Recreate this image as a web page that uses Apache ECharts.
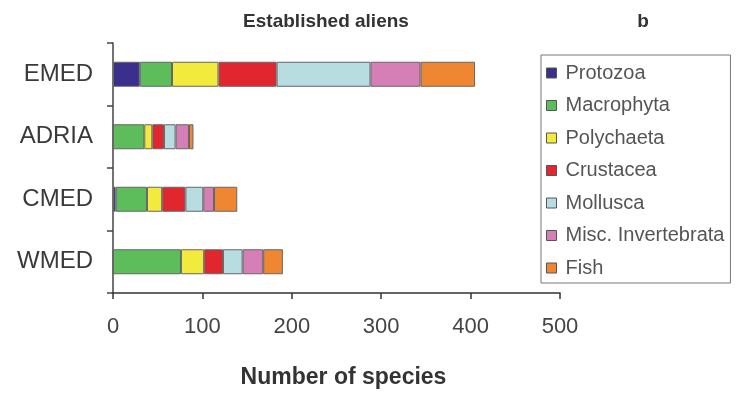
<!DOCTYPE html>
<html>
<head>
<meta charset="utf-8">
<script src="https://cdn.jsdelivr.net/npm/echarts@6/dist/echarts.min.js"></script>
<style>
  html, body { margin: 0; padding: 0; background: #fff; }
  #chart { width: 740px; height: 397px; }
</style>
</head>
<body>
<div id="chart"></div>
<script>
// Regions of the Mediterranean (top to bottom)
const regions = ['EMED', 'ADRIA', 'CMED', 'WMED'];

// Established alien species per taxonomic group, one value per region
const protozoa    = [30, 0, 3, 0];
const macrophyta  = [36, 35, 35, 76];
const polychaeta  = [52, 9, 17, 26];
const crustacea   = [65, 13, 26, 21];
const mollusca    = [105, 13, 20, 22];
const miscInvert  = [56, 15, 12, 23];
const fish        = [61, 5, 26, 22];

const xTicks = [0, 100, 200, 300, 400, 500];

const groups = [
  { name: 'Protozoa',            data: protozoa,   color: '#3a2f8c' },
  { name: 'Macrophyta',          data: macrophyta, color: '#5dbd5a' },
  { name: 'Polychaeta',          data: polychaeta, color: '#f3ea3e' },
  { name: 'Crustacea',           data: crustacea,  color: '#e12630' },
  { name: 'Mollusca',            data: mollusca,   color: '#b8dde0' },
  { name: 'Misc. Invertebrata',  data: miscInvert, color: '#d57fb6' },
  { name: 'Fish',                data: fish,       color: '#ef8631' }
];

const font = '"Liberation Sans", Arial, sans-serif';
const chart = echarts.init(document.getElementById('chart'), null, { renderer: 'canvas' });

chart.setOption({
  animation: false,
  textStyle: { fontFamily: font },
  title: [
    {
      text: 'Established aliens',
      left: 321, top: 7, textAlign: 'center',
      textStyle: { fontFamily: font, fontSize: 19, fontWeight: 'bold', color: '#333' }
    },
    {
      text: 'b',
      left: 638, top: 7, textAlign: 'center',
      textStyle: { fontFamily: font, fontSize: 19, fontWeight: 'bold', color: '#333' }
    }
  ],
  legend: {
    orient: 'vertical',
    left: 541, top: 55,
    padding: [8, 6, 5, 5],
    borderColor: '#777', borderWidth: 1,
    itemWidth: 10, itemHeight: 10,
    itemGap: 12.5,
    icon: 'rect',
    itemStyle: { borderColor: '#555', borderWidth: 1 },
    textStyle: { fontFamily: font, fontSize: 20, lineHeight: 20, color: '#555', padding: [0, 0, 0, 4] },
    data: groups.map(g => g.name)
  },
  grid: { left: 113, right: 180, top: 43, bottom: 104, containLabel: false },
  xAxis: {
    type: 'value',
    min: xTicks[0], max: xTicks[xTicks.length - 1], interval: 100,
    name: 'Number of species',
    nameLocation: 'middle', nameGap: 73,
    nameTextStyle: { fontFamily: font, fontSize: 23, fontWeight: 'bold', color: '#333', padding: [0, 0, 0, 14] },
    axisLine: { show: true, lineStyle: { color: '#333', width: 1.5 } },
    axisTick: { show: true, length: 6, lineStyle: { color: '#333', width: 1.5 } },
    axisLabel: { fontFamily: font, fontSize: 22, color: '#444', margin: 23 },
    splitLine: { show: false }
  },
  yAxis: {
    type: 'category',
    data: regions,
    inverse: true,
    axisLine: { show: true, lineStyle: { color: '#444', width: 1.5 } },
    axisTick: { show: true, length: 6, lineStyle: { color: '#444', width: 1.5 } },
    axisLabel: { fontFamily: font, fontSize: 24, color: '#3a3a3a', margin: 20 }
  },
  series: groups.map(g => ({
    name: g.name,
    type: 'bar',
    stack: 'total',
    data: g.data,
    barWidth: '40%',
    itemStyle: { color: g.color, borderColor: '#666', borderWidth: 1 },
    emphasis: { disabled: true }
  }))
});
</script>
</body>
</html>
